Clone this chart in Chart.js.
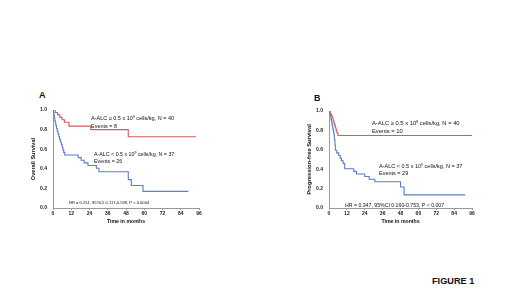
<!DOCTYPE html>
<html><head><meta charset="utf-8">
<script src="https://cdn.jsdelivr.net/npm/chart.js@4.4.1/dist/chart.umd.min.js"></script>
<style>
html,body{margin:0;padding:0;background:#fff;}
body{width:520px;height:292px;position:relative;overflow:hidden;font-family:"Liberation Sans",Arial,sans-serif;}
.cv{position:absolute;}
.t{position:absolute;white-space:nowrap;line-height:1;color:#111;transform:translateY(-50%);}
</style></head><body>
<div class="cv" style="left:28px;top:100px;width:182px;height:126px;"><canvas id="ca"></canvas></div>
<div class="cv" style="left:304px;top:100px;width:182px;height:126px;"><canvas id="cb"></canvas></div>

<div class="t" style="left:39px;top:95px;font-size:9px;font-weight:bold;">A</div>
<div class="t" style="left:314px;top:98px;font-size:9px;font-weight:bold;">B</div>

<div class="t" style="left:91px;top:119px;font-size:5.5px;">A-ALC ≥ 0.5 x 10<sup style="font-size:3.5px;vertical-align:top">9</sup> cells/kg, N = 40</div>
<div class="t" style="left:91px;top:126.5px;font-size:5.5px;">Events = 8</div>
<div class="t" style="left:94px;top:155px;font-size:5.3px;">A-ALC &lt; 0.5 x 10<sup style="font-size:3.5px;vertical-align:top">9</sup> cells/kg, N = 37</div>
<div class="t" style="left:94px;top:161.5px;font-size:5.3px;">Events = 26</div>
<div class="t" style="left:69px;top:203px;font-size:4.1px;">HR = 0.251, 95%CI 0.117-0.539, P &lt; 0.0004</div>

<div class="t" style="left:372px;top:124px;font-size:5.8px;">A-ALC ≥ 0.5 x 10<sup style="font-size:3.7px;vertical-align:top">9</sup> cells/kg, N = 40</div>
<div class="t" style="left:372px;top:131.5px;font-size:5.8px;">Events = 10</div>
<div class="t" style="left:379px;top:167px;font-size:5.5px;">A-ALC &lt; 0.5 x 10<sup style="font-size:3.6px;vertical-align:top">9</sup> cells/kg, N = 37</div>
<div class="t" style="left:379px;top:174px;font-size:5.5px;">Events = 29</div>
<div class="t" style="left:345px;top:205.5px;font-size:5.2px;">HR = 0.347, 95%CI 0.160-0.753, P &lt; 0.007</div>

<div class="t" style="left:432px;top:282px;font-size:9.2px;font-weight:bold;color:#111;">FIGURE 1</div>

<script>
const xTicks = [0, 12, 24, 36, 48, 60, 72, 84, 96];
const yTicks = [0.0, 0.2, 0.4, 0.6, 0.8, 1.0];

// Panel A: overall survival
const osHighTime = [0, 1.5, 3, 4.5, 6, 7.5, 10.5, 24.8, 49.5, 94];
const osHighSurv = [1.0, 0.975, 0.95, 0.925, 0.9, 0.875, 0.835, 0.80, 0.727, 0.727];
const osLowTime = [0, 0.3, 0.6, 0.9, 1.2, 1.5, 1.9, 2.3, 2.8, 3.3, 3.8, 4.3, 4.8, 5.4, 6, 6.5, 7, 7.7, 16.5, 18.5, 20.5, 23, 28.5, 30.2, 49.5, 51.5, 59.2, 89];
const osLowSurv = [1, 0.973, 0.946, 0.919, 0.892, 0.865, 0.838, 0.811, 0.784, 0.757, 0.730, 0.703, 0.676, 0.649, 0.622, 0.595, 0.568, 0.541, 0.514, 0.487, 0.46, 0.433, 0.405, 0.37, 0.29, 0.23, 0.17, 0.17];

// Panel B: progression-free survival
const pfsHighTime = [0, 0.7, 1.5, 2.2, 2.8, 3.3, 3.8, 4.3, 4.8, 5.3, 6, 96];
const pfsHighSurv = [1, 0.975, 0.95, 0.925, 0.9, 0.875, 0.85, 0.825, 0.8, 0.775, 0.747, 0.747];
const pfsLowTime = [0, 0.5, 1, 1.3, 1.6, 2, 2.3, 2.6, 3, 3.3, 3.6, 4, 4.3, 5.2, 6.5, 7.5, 8.3, 9.5, 10.5, 16.6, 18.4, 24, 27, 30.8, 48, 50.4, 91.5];
const pfsLowSurv = [1, 0.973, 0.946, 0.919, 0.892, 0.865, 0.838, 0.811, 0.784, 0.757, 0.703, 0.649, 0.595, 0.568, 0.541, 0.514, 0.486, 0.459, 0.405, 0.378, 0.351, 0.324, 0.297, 0.27, 0.216, 0.135, 0.135];

const RED = '#cf5d5f', BLUE = '#5a7fc2';
const FONT = '"Liberation Sans", Arial, sans-serif';

function pts(t, s) { return t.map((x, i) => ({ x: x, y: s[i] })); }

function makeChart(id, hiT, hiS, loT, loS, yTitle, padR, padT, yTitleSize) {
  return new Chart(document.getElementById(id), {
    type: 'line',
    data: {
      datasets: [
        { data: pts(hiT, hiS), borderColor: RED, borderWidth: 1.1, stepped: 'before', pointRadius: 0, fill: false },
        { data: pts(loT, loS), borderColor: BLUE, borderWidth: 1.1, stepped: 'before', pointRadius: 0, fill: false }
      ]
    },
    options: {
      responsive: true, maintainAspectRatio: false, animation: false,
      layout: { padding: { left: 0, right: padR, top: padT, bottom: 0 } },
      plugins: { legend: { display: false }, tooltip: { enabled: false } },
      scales: {
        x: {
          type: 'linear', min: 0, max: 96,
          afterBuildTicks: (s) => { s.ticks = xTicks.map(v => ({ value: v })); },
          afterFit: (s) => { s.height = 18; },
          border: { display: true, color: '#9a9a9a', width: 1 },
          grid: { display: true, drawOnChartArea: false, drawTicks: true, tickLength: 2, color: '#9a9a9a' },
          ticks: { font: { family: FONT, size: 5, weight: 'bold' }, color: '#222', padding: 1, maxRotation: 0, autoSkip: false },
          title: { display: true, text: 'Time in months', font: { family: FONT, size: 5.2, weight: 'bold' }, color: '#111', padding: { top: 0, bottom: 1 } }
        },
        y: {
          type: 'linear', min: 0, max: 1,
          afterBuildTicks: (s) => { s.ticks = yTicks.map(v => ({ value: v })); },
          afterFit: (s) => { s.width = 25; },
          border: { display: true, color: '#9a9a9a', width: 1 },
          grid: { display: false, drawTicks: false },
          ticks: { font: { family: FONT, size: 5, weight: 'bold' }, color: '#222', padding: 6, callback: (v) => Number(v).toFixed(1) },
          title: { display: true, text: yTitle, font: { family: FONT, size: yTitleSize, weight: 'bold' }, color: '#111', padding: { top: 2, bottom: 0 } }
        }
      }
    }
  });
}

makeChart('ca', osHighTime, osHighSurv, osLowTime, osLowSurv, 'Overall Survival', 11, 10, 5.6);
makeChart('cb', pfsHighTime, pfsHighSurv, pfsLowTime, pfsLowSurv, 'Progression-free Survival', 14, 11, 5.8);
</script>
</body></html>
